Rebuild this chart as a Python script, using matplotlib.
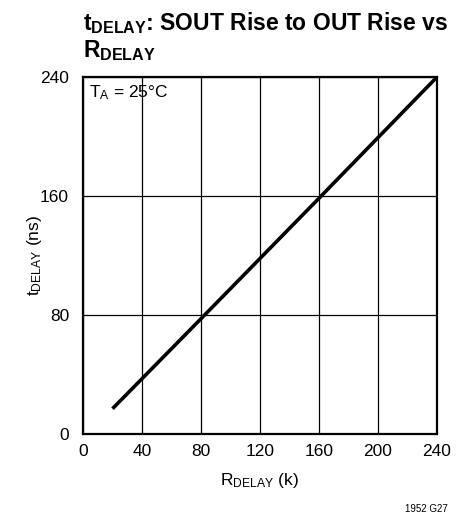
import matplotlib
matplotlib.use("Agg")
import matplotlib.pyplot as plt
from matplotlib import font_manager as fm

names = {f.name for f in fm.fontManager.ttflist}
fam = 'Liberation Sans Narrow' if 'Liberation Sans Narrow' in names else 'Liberation Sans'
plt.rcParams['font.family'] = [fam, 'DejaVu Sans']
plt.rcParams['mathtext.fontset'] = 'custom'
plt.rcParams['mathtext.rm'] = fam
plt.rcParams['mathtext.it'] = fam
plt.rcParams['mathtext.bf'] = fam + ':bold'

# data
r_delay = [20, 80, 160, 240]
t_delay = [17, 77.5, 158.5, 240]
x_ticks = [0, 40, 80, 120, 160, 200, 240]
y_ticks = [0, 80, 160, 240]

fig = plt.figure(figsize=(4.66, 5.2), dpi=100)
ax = fig.add_axes([83/466, 1-434/520, (437-83)/466, (434-77)/520])
ax.plot(r_delay, t_delay, color='black', lw=2.6, solid_capstyle='butt')
ax.set_xlim(0, 240)
ax.set_ylim(0, 240)
ax.set_xticks(x_ticks)
ax.set_yticks(y_ticks)
ax.grid(True, color='black', lw=0.9)
ax.tick_params(length=0, labelsize=12.5, pad=7)
ax.tick_params(axis='y', pad=10)
for s in ax.spines.values():
    s.set_linewidth(1.6)
ax.set_xlabel(r'R$_\mathregular{DELAY}$ (k)', fontsize=12.5)
ax.set_ylabel(r't$_\mathregular{DELAY}$ (ns)', fontsize=12.5)
ax.xaxis.set_label_coords(0.5, -(471-434)/357)
ax.yaxis.set_label_coords((44-83)/354, 0.5)
ax.text(4, 235.5, r'T$_\mathregular{A}$ = 25°C', fontsize=12.5, va='top', ha='left')

fig.text(83/466, 1-10/520, r't$_\mathregular{DELAY}$: SOUT Rise to OUT Rise vs' + '\n' + r'R$_\mathregular{DELAY}$',
         fontsize=16.5, fontweight='bold', ha='left', va='top', linespacing=1.1)
fig.text(448/466, 1-509/520, '1952 G27', fontsize=7, ha='right', va='center')

fig.savefig('out.png', dpi=100)
